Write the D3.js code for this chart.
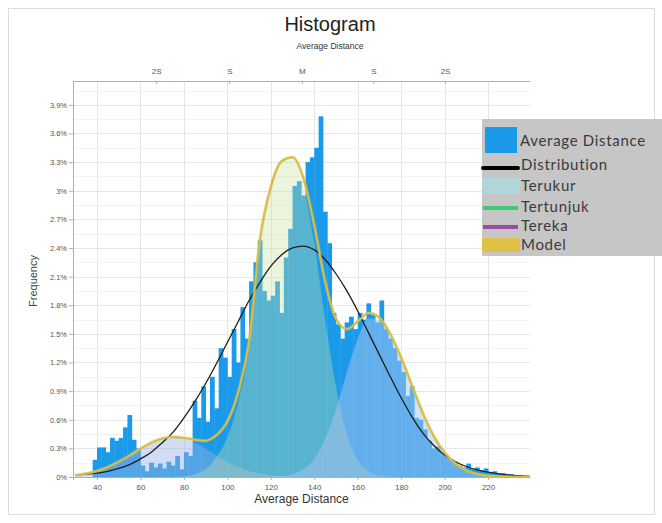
<!DOCTYPE html>
<html><head><meta charset="utf-8">
<script src="https://cdn.jsdelivr.net/npm/d3@7"></script>
<style>body{margin:0;background:#fff}svg{display:block}</style>
</head><body>
<svg id="c" width="662" height="523"></svg>
<script>
// ---------- data ----------
const binStart = d3.range(38, 237, 2);   // histogram bin starts (width 2)
const binWidth = 2;
const frequency = [
  0.18,0.31,0.31,0.26,0.41,0.38,0.41,0.52,0.65,0.39,
  0.30,0.12,0.06,0.15,0.10,0.14,0.09,0.16,0.12,0.22,
  0.08,0.26,0.22,0.80,0.62,0.95,0.58,1.05,0.72,1.35,
  1.25,1.05,1.55,1.20,1.78,1.45,2.05,2.25,2.48,1.95,
  1.85,1.90,2.05,1.72,2.30,2.60,3.05,3.10,2.95,3.30,
  3.35,3.45,3.78,2.78,2.45,1.72,1.60,1.45,1.62,1.68,
  1.55,1.72,1.65,1.82,1.70,1.62,1.85,1.55,1.45,1.35,
  1.22,1.10,0.85,0.95,0.62,0.60,0.50,0.38,0.30,0.32,
  0.25,0.22,0.18,0.16,0.12,0.10,0.14,0.08,0.10,0.07,
  0.09,0.05,0.06,0.04,0.04,0.03,0.03,0.02,0.02,0.01
];
const curveX = [30,35,40,45,50,55,60,65,70,75,80,85,90,95,100,105,110,115,120,125,130,
  135,140,145,150,155,160,165,170,175,180,185,190,195,200,205,210,215,220,225,230,235,239];
const distribution = [
  0.02,0.03,0.04,0.06,0.09,0.13,0.19,0.26,0.36,0.47,
  0.62,0.79,0.98,1.19,1.41,1.63,1.85,2.04,2.21,2.33,
  2.40,2.42,2.38,2.28,2.13,1.95,1.74,1.51,1.28,1.05,
  0.83,0.63,0.46,0.33,0.23,0.16,0.11,0.075,0.05,0.033,
  0.02,0.012,0.008
];
const component1 = [
  0.018,0.036,0.063,0.105,0.16,0.226,0.297,0.36,0.404,0.42,
  0.404,0.36,0.297,0.226,0.16,0.105,0.063,0.036,0.018,0.008,
  0.003,0,0,0,0,0,0,0,0,0,
  0,0,0,0,0,0,0,0,0,0,
  0,0,0
];
const component2 = [
  0,0,0,0,0,0,0,0,0,0,
  0.005,0.03,0.08,0.21,0.42,0.78,1.35,2.45,3.02,3.30,
  3.32,3.05,2.45,1.65,0.95,0.45,0.18,0.06,0.015,0.003,
  0,0,0,0,0,0,0,0,0,0,
  0,0,0
];
const component3 = [
  0,0,0,0,0,0,0,0,0,0,
  0,0,0,0,0,0,0,0,0.004,0.01,
  0.03,0.08,0.19,0.40,0.71,1.10,1.45,1.66,1.65,1.50,
  1.25,0.96,0.67,0.43,0.255,0.14,0.069,0.031,0.013,0.005,
  0.002,0,0
];
const model = [
  0.018,0.036,0.063,0.105,0.16,0.226,0.297,0.36,0.404,0.42,
  0.41,0.39,0.38,0.44,0.58,0.89,1.42,2.49,3.04,3.31,
  3.35,3.13,2.64,2.05,1.66,1.55,1.63,1.72,1.67,1.50,
  1.25,0.96,0.67,0.43,0.255,0.14,0.069,0.031,0.013,0.005,
  0.002,0,0
];
const yTicks = [0,0.3,0.6,0.9,1.2,1.5,1.8,2.1,2.4,2.7,3,3.3,3.6,3.9];
const xTicks = [40,60,80,100,120,140,160,180,200,220];
const topTickValues = [67.2,100.9,134.3,167.2,200.2];
const topTickLabels = ["2S","S","M","S","2S"];
const legendLabels = ["Average Distance","Distribution","Terukur","Tertunjuk","Tereka","Model"];

// ---------- layout ----------
const svg = d3.select("#c");
const P = {left:73, right:530, top:81, bottom:477};
const x = d3.scaleLinear().domain([28.95, 239.3]).range([P.left, P.right]);
const y = d3.scaleLinear().domain([0, 4.15]).range([P.bottom, P.top]);

// frame
svg.append("rect").attr("x",8.5).attr("y",8.5).attr("width",646).attr("height",506)
  .attr("fill","#fff").attr("stroke","#dcdcdc");

// titles
svg.append("text").attr("x",330).attr("y",31).attr("text-anchor","middle")
  .attr("font-family","Liberation Sans, Arial, sans-serif").attr("font-size",20).attr("fill","#222")
  .text("Histogram");
svg.append("text").attr("x",330).attr("y",49).attr("text-anchor","middle")
  .attr("font-family","Liberation Sans, Arial, sans-serif").attr("font-size",8.5).attr("fill","#333")
  .text("Average Distance");

// grid
const g = svg.append("g");
const minorY = d3.range(0.15, 4.15, 0.3);
g.selectAll(".gm").data(minorY).join("line")
  .attr("x1",P.left).attr("x2",P.right).attr("y1",d=>Math.round(y(d))+0.5).attr("y2",d=>Math.round(y(d))+0.5)
  .attr("stroke","#f3f3f3");
g.selectAll(".gy").data(yTicks).join("line")
  .attr("x1",P.left).attr("x2",P.right).attr("y1",d=>Math.round(y(d))+0.5).attr("y2",d=>Math.round(y(d))+0.5)
  .attr("stroke","#e6e6e6");
g.selectAll(".gx").data(xTicks).join("line")
  .attr("y1",P.top).attr("y2",P.bottom).attr("x1",d=>Math.round(x(d))+0.5).attr("x2",d=>Math.round(x(d))+0.5)
  .attr("stroke","#e6e6e6");

// clip
svg.append("clipPath").attr("id","clip").append("rect")
  .attr("x",P.left).attr("y",P.top).attr("width",P.right-P.left).attr("height",P.bottom-P.top);
const plot = svg.append("g").attr("clip-path","url(#clip)");

// bars
plot.selectAll(".bar").data(binStart).join("rect")
  .attr("x",d=>x(d)).attr("width",d=>x(d+binWidth)-x(d)+0.4)
  .attr("y",(d,i)=>y(frequency[i])).attr("height",(d,i)=>y(0)-y(frequency[i]))
  .attr("fill","#1a9ae8");

const pts = arr => curveX.map((v,i)=>[v,arr[i]]);
const area = d3.area().x(d=>x(d[0])).y0(y(0)).y1(d=>y(d[1])).curve(d3.curveMonotoneX);
const line = d3.line().x(d=>x(d[0])).y(d=>y(d[1])).curve(d3.curveMonotoneX);

plot.append("path").attr("d",area(pts(component1))).attr("fill","rgb(155,178,227)").attr("fill-opacity",0.45);
plot.append("path").attr("d",area(pts(component2))).attr("fill","rgb(200,225,160)").attr("fill-opacity",0.36);
plot.append("path").attr("d",area(pts(component3))).attr("fill","rgb(170,195,240)").attr("fill-opacity",0.5);

plot.append("path").attr("d",line(pts(distribution))).attr("fill","none").attr("stroke","#1e1e1e").attr("stroke-width",1.3);
plot.append("path").attr("d",line(pts(model))).attr("fill","none").attr("stroke","#9fd27a").attr("stroke-width",3.4).attr("stroke-opacity",0.4);
plot.append("path").attr("d",line(pts(model))).attr("fill","none").attr("stroke","#e4b83c").attr("stroke-width",2);

// axes
const fmtPct = d => (+d.toFixed(1)) + "%";
const ax = (sel) => {
  sel.selectAll(".domain").attr("stroke","#b0b0b0");
  sel.selectAll(".tick line").attr("stroke","#b0b0b0");
  sel.selectAll("text").attr("fill","#555").attr("font-family","Liberation Sans, Arial, sans-serif");
};
const yA = svg.append("g").attr("transform",`translate(${P.left},0)`)
  .call(d3.axisLeft(y).tickValues(yTicks).tickFormat(fmtPct).tickSize(4).tickSizeOuter(0).tickPadding(2));
ax(yA); yA.selectAll("text").attr("font-size",7.5);
yA.select(".domain").attr("d",`M0.5,${P.top}V${P.bottom+3}`);

const xA = svg.append("g").attr("transform",`translate(0,${P.bottom})`)
  .call(d3.axisBottom(x).tickValues(xTicks).tickSize(3).tickSizeOuter(0).tickPadding(4));
ax(xA); xA.selectAll("text").attr("font-size",8);

const tA = svg.append("g").attr("transform",`translate(0,${P.top})`)
  .call(d3.axisTop(x).tickValues(topTickValues).tickFormat((d,i)=>topTickLabels[i]).tickSizeInner(-3).tickSizeOuter(0).tickPadding(7));
ax(tA); tA.selectAll("text").attr("font-size",8);

// axis titles
svg.append("text").attr("transform",`translate(37,${(P.top+P.bottom)/2+2}) rotate(-90)`)
  .attr("text-anchor","middle").attr("font-family","Liberation Sans, Arial, sans-serif")
  .attr("font-size",11).attr("fill","#444").text("Frequency");
svg.append("text").attr("x",(P.left+P.right)/2).attr("y",503).attr("text-anchor","middle")
  .attr("font-family","Liberation Sans, Arial, sans-serif").attr("font-size",12).attr("fill","#333")
  .text("Average Distance");

// legend
const L = svg.append("g");
L.append("rect").attr("x",482).attr("y",119).attr("width",180).attr("height",137).attr("fill","#c6c6c6");
const ly = [141,165,186,207,226,245];
L.append("rect").attr("x",485).attr("y",127).attr("width",32).attr("height",26).attr("fill","#1a9ae8");
L.append("line").attr("x1",483).attr("x2",518).attr("y1",168).attr("y2",168).attr("stroke","#000").attr("stroke-width",4).attr("stroke-linecap","round");
L.append("rect").attr("x",482).attr("y",178).attr("width",38).attr("height",16).attr("fill","#b0d6da");
L.append("line").attr("x1",483).attr("x2",518).attr("y1",208).attr("y2",208).attr("stroke","#3ec96a").attr("stroke-width",4);
L.append("line").attr("x1",483).attr("x2",518).attr("y1",227).attr("y2",227).attr("stroke","#9a4ea0").attr("stroke-width",4);
L.append("rect").attr("x",482).attr("y",238).attr("width",38).attr("height",14).attr("fill","#e0c046");
L.selectAll(".lt").data(legendLabels).join("text")
  .attr("x",(d,i)=> i===0 ? 520 : 521).attr("y",(d,i)=>ly[i]).attr("dy","0.35em")
  .attr("font-family","Lato, Open Sans, sans-serif").attr("font-size",15).attr("letter-spacing",0.7)
  .attr("fill","#3a3a3a")
  .text(d=>d);
</script>
</body></html>
